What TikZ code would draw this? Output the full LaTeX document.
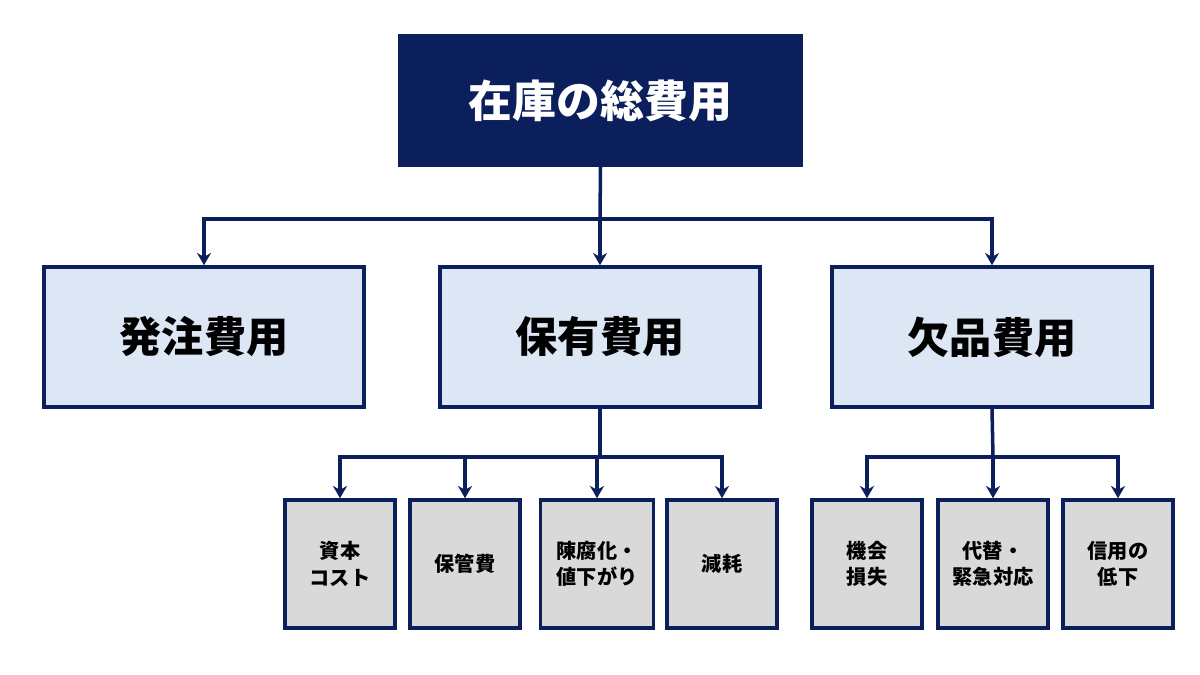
\documentclass[tikz,border=0pt]{standalone}
\usepackage{fontspec}
\setmainfont{Noto Sans CJK JP}
\usetikzlibrary{arrows.meta}
\definecolor{navy}{HTML}{0B1F5C}
\definecolor{lblue}{HTML}{DCE6F5}
\definecolor{lgray}{HTML}{D9D9D9}
\begin{document}
\begin{tikzpicture}[x=0.02cm,y=-0.02cm,
  box/.style={draw=navy,line width=2pt,align=center,inner sep=0pt,font=\bfseries},
  top/.style={box,fill=navy,text=white,minimum width=401*0.02cm,minimum height=129*0.02cm,font=\bfseries\fontsize{25}{30}\selectfont},
  mid/.style={box,fill=lblue,text=black,minimum width=320*0.02cm,minimum height=140*0.02cm,font=\bfseries\fontsize{24}{29}\selectfont},
  leaf/.style={box,fill=lgray,text=black,minimum width=110*0.02cm,minimum height=128*0.02cm,font=\bfseries\fontsize{11.5}{15}\selectfont},
  conn/.style={navy,line width=2pt},
  arr/.style={conn,-{Stealth[length=7pt,width=8pt]}}]
\useasboundingbox (0,0) rectangle (1200,675);
\node[top] (t) at (600.5,100.5) {在庫の総費用};
\node[mid] (a) at (204,337) {発注費用};
\node[mid] (b) at (600,337) {保有費用};
\node[mid] (c) at (992,337) {欠品費用};
\node[leaf] (b1) at (340,564) {資本\\コスト};
\node[leaf] (b2) at (465,564) {保管費};
\node[leaf,minimum width=113*0.02cm] (b3) at (597,564) {陳腐化・\\値下がり};
\node[leaf] (b4) at (722,564) {減耗};
\node[leaf] (c1) at (867,564) {機会\\損失};
\node[leaf] (c2) at (993,564) {代替・\\緊急対応};
\node[leaf] (c3) at (1118,564) {信用の\\低下};
\coordinate (j0) at (600,219);
\coordinate (j1) at (600,457);
\coordinate (j2) at (993,457);
\draw[conn] (t.south) -- (j0);
\draw[arr] (j0) -| (a.north);
\draw[arr] (j0) -- (b.north);
\draw[arr] (j0) -| (c.north);
\draw[conn] (b.south) -- (j1);
\draw[arr] (j1) -| (b1.north);
\draw[arr] (j1) -| (b2.north);
\draw[arr] (j1) -| (b3.north);
\draw[arr] (j1) -| (b4.north);
\draw[conn] (c.south) -- (j2);
\draw[arr] (j2) -| (c1.north);
\draw[arr] (j2) -- (c2.north);
\draw[arr] (j2) -| (c3.north);
\end{tikzpicture}
\end{document}
